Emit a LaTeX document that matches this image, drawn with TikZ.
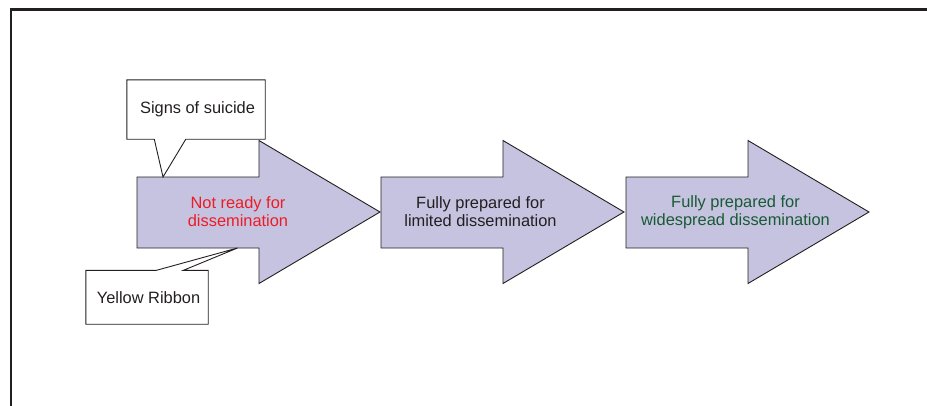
\documentclass[tikz,border=0pt]{standalone}
\usepackage{fontspec}
\setmainfont{Liberation Sans}
\usetikzlibrary{calc}

\definecolor{stagefill}{RGB}{198,195,225}
\definecolor{inkgray}{RGB}{35,31,32}
\definecolor{notred}{RGB}{237,28,36}
\definecolor{wideshade}{RGB}{24,90,52}

\tikzset{
    stage/.style={draw=inkgray, fill=stagefill, line width=0.9pt, line join=miter},
    stagetext/.style={align=center, text=inkgray, inner sep=0pt},
    notebox/.style={inner sep=0pt, text=inkgray},
    noteline/.style={draw=inkgray, line width=0.9pt}
}

\begin{document}
\begin{tikzpicture}[x=1pt, y=-1pt, font=\fontsize{16.4}{18.2}\selectfont]
    \useasboundingbox (0,0) rectangle (927,405);
    % outer frame
    \draw[inkgray, line width=2.6pt] (11,420) -- (11,9.6) -- (940,9.6);

    % the three stage arrows
    \foreach \x/\n in {137/first, 381/second, 626/third} {
        \draw[stage] (\x,177) -- ++(122,0) -- ++(0,-36.5) -- ++(121,71.5)
            -- ++(-121,71.5) -- ++(0,-35.5) -- ++(-122,0) -- cycle;
        \coordinate (\n-tail) at (\x,212);
    }

    \node[stagetext, text=notred] (notready) at (238,212) {Not ready for\\dissemination};
    \node[stagetext] (limited) at (480.5,212) {Fully prepared for\\limited dissemination};
    \node[stagetext, text=wideshade] (widespread) at (735.5,212) {Fully prepared for\\widespread dissemination};

    % callouts
    \node[notebox, minimum width=138, minimum height=59] (signs) at (196,109.5) {\hspace{3pt}Signs of suicide};
    \coordinate (signs-tip) at (163,177);
    \draw[noteline] (signs.south west) -- (signs.north west) -- (signs.north east) -- (signs.south east)
        -- ($(signs.south west)+(59,0)$) -- (signs-tip) -- ($(signs.south west)+(27.5,0)$) -- cycle;

    \node[notebox, minimum width=122, minimum height=53.5] (ribbon) at (147,297.3) {\hspace{3pt}Yellow Ribbon};
    \coordinate (ribbon-tip) at (237.5,248);
    \draw[noteline] (ribbon.north west) -- ($(ribbon.north west)+(70.5,0)$) -- (ribbon-tip)
        -- ($(ribbon.north west)+(97.5,0)$) -- (ribbon.north east) -- (ribbon.south east)
        -- (ribbon.south west) -- cycle;
\end{tikzpicture}
\end{document}
